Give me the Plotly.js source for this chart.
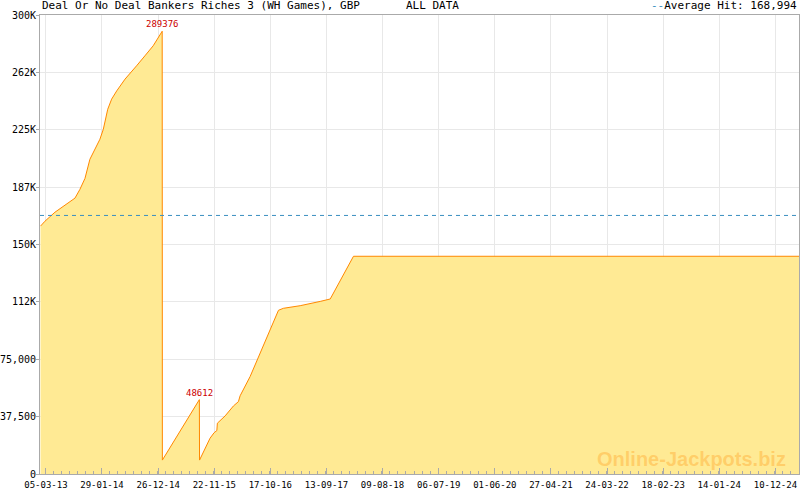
<!DOCTYPE html>
<html>
<head>
<meta charset="utf-8">
<script src="https://cdn.plot.ly/plotly-3.0.1.min.js"></script>
<style>
  body { margin: 0; background: #fff; }
  #chart { width: 800px; height: 490px; }
</style>
</head>
<body>
<div id="chart"></div>
<script>
// jackpot history
const dates = [
  '2013-02-01', '2013-02-27', '2013-04-27', '2013-07-24', '2013-08-23',
  '2013-09-21', '2013-10-21', '2013-11-19', '2013-12-09', '2014-01-17',
  '2014-02-06', '2014-03-04', '2014-03-27', '2014-04-26', '2014-06-14',
  '2014-07-23', '2014-08-21', '2014-10-09', '2014-11-27', '2015-01-19',
  '2015-01-20', '2015-08-26', '2015-08-27', '2015-10-28', '2015-11-21',
  '2015-12-07', '2015-12-10', '2016-01-25', '2016-02-13', '2016-03-14',
  '2016-04-12', '2016-04-22', '2016-06-20', '2016-12-04', '2017-01-02',
  '2017-04-11', '2017-08-07', '2017-10-05', '2018-02-19', '2025-04-28'
];
const jackpot = [
  162000, 165200, 171100, 177700, 180300,
  186000, 193200, 205700, 210000, 218800,
  225300, 238400, 245000, 250400, 258100,
  263500, 266800, 273300, 279900, 289376,
  9100, 48612, 9100, 23400, 27000,
  28400, 33200, 38000, 40800, 44500,
  47300, 51100, 63700, 107000, 108300,
  110000, 112800, 114400, 142300, 142300
];

// labelled hits
const hitDates = ['2015-01-19', '2015-08-26'];
const hitValues = [289376, 48612];

const averageHit = 168994;

const xTicks = [
  '2013-03-05', '2014-01-29', '2014-12-26', '2015-11-22', '2016-10-17',
  '2017-09-13', '2018-08-09', '2019-07-06', '2020-06-01', '2021-04-27',
  '2022-03-24', '2023-02-18', '2024-01-14', '2024-12-10'
];
const yTicks = [0, 37500, 75000, 112500, 150000, 187500, 225000, 262500, 300000];
const yTickText = ['0', '37,500', '75,000', '112K', '150K', '187K', '225K', '262K', '300K'];

const DAY = 86400000;
const mono = 'DejaVu Sans Mono, monospace';

let trace = {
  x: dates,
  y: jackpot,
  type: 'scatter',
  mode: 'lines',
  fill: 'tozeroy',
  fillcolor: '#ffea94',
  line: {color: '#ff8800', width: 1},
  hoverinfo: 'x+y'
};

let annotations = hitDates.map((d, i) => ({
  x: d, y: hitValues[i], xref: 'x', yref: 'y',
  text: String(hitValues[i]), showarrow: false,
  yanchor: 'bottom', yshift: 0,
  font: {family: mono, size: 9, color: '#cc0000'}
}));

annotations.push(
  {xref: 'paper', yref: 'paper', x: 0, y: 1, xanchor: 'left', yanchor: 'bottom', yshift: 1,
   text: 'Deal Or No Deal Bankers Riches 3 (WH Games), GBP', showarrow: false,
   font: {family: mono, size: 11, color: '#000'}},
  {xref: 'paper', yref: 'paper', x: 0.4795, y: 1, xanchor: 'left', yanchor: 'bottom', yshift: 1,
   text: 'ALL DATA', showarrow: false,
   font: {family: mono, size: 11, color: '#000'}},
  {xref: 'paper', yref: 'paper', x: 1, y: 1, xanchor: 'right', yanchor: 'bottom', yshift: 1,
   text: '<span style="color:#3a8fc0">--</span>Average Hit: ' + averageHit.toLocaleString('en-US'),
   showarrow: false, font: {family: mono, size: 11, color: '#000'}},
  {xref: 'paper', yref: 'paper', x: 0.985, y: 0.005, xanchor: 'right', yanchor: 'bottom',
   text: '<b>Online-Jackpots.biz</b>', showarrow: false,
   font: {family: 'Liberation Sans, Arial, sans-serif', size: 20, color: 'rgba(255,170,50,0.45)'}}
);

let layout = {
  width: 800,
  height: 490,
  margin: {l: 40, r: 1, t: 15, b: 16},
  paper_bgcolor: '#fff',
  plot_bgcolor: '#fff',
  showlegend: false,
  xaxis: {
    type: 'date',
    range: ['2013-01-29', '2025-04-28'],
    tickvals: xTicks,
    tickformat: '%d-%m-%y',
    ticks: 'inside',
    ticklen: 6,
    tickcolor: '#aaa',
    tickfont: {family: mono, size: 9, color: '#000'},
    ticklabelstandoff: 2,
    showgrid: true,
    gridcolor: '#e8e8e8',
    showline: true,
    linecolor: '#aaa',
    mirror: true,
    zeroline: false,
    minor: {tick0: '2013-03-05', dtick: 330 / 7 * DAY, ticks: 'inside', ticklen: 3, tickcolor: '#aaa', showgrid: false}
  },
  yaxis: {
    range: [0, 300000],
    tickvals: yTicks,
    ticktext: yTickText,
    ticks: 'outside',
    ticklen: 3,
    tickcolor: '#aaa',
    tickfont: {family: mono, size: 10, color: '#000'},
    ticklabelstandoff: -2,
    showgrid: true,
    gridcolor: '#e8e8e8',
    showline: true,
    linecolor: '#aaa',
    mirror: true,
    zeroline: false
  },
  shapes: [{
    type: 'line', xref: 'paper', yref: 'y',
    x0: 0, x1: 1, y0: averageHit, y1: averageHit,
    line: {color: '#3a8fc0', width: 1, dash: '4px,4px'}
  }],
  annotations: annotations
};

Plotly.newPlot('chart', [trace], layout, {staticPlot: true});
</script>
</body>
</html>
